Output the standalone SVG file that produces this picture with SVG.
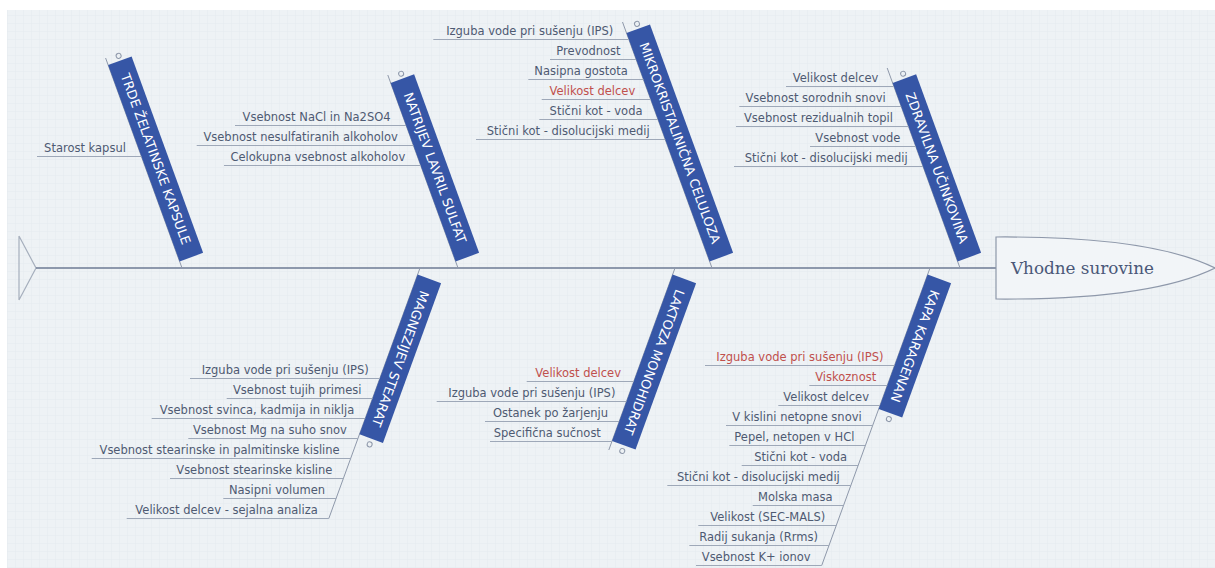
<svg xmlns="http://www.w3.org/2000/svg" width="1215" height="568" viewBox="0 0 1215 568">
<defs>
<pattern id="grid" width="8" height="8" patternUnits="userSpaceOnUse">
<rect width="8" height="8" fill="#eef2f5"/>
<path d="M8 0V8M0 8H8" stroke="#e5eaef" stroke-width="1" fill="none"/>
</pattern>
<style>
.bar{fill:#3656a6}
.bt{font-family:"DejaVu Sans",Verdana,sans-serif;font-size:13px;fill:#ffffff;text-anchor:middle}
.knob{fill:none;stroke:#8e98aa;stroke-width:1}
.st{font-family:"DejaVu Sans",Verdana,sans-serif;font-size:11.5px;fill:#4e5a72;text-anchor:end}
.red{fill:#c0504d}
.ul{stroke:#9ea8b8;stroke-width:1}
.bl{stroke:#8e98aa;stroke-width:1;fill:none}
.spine{stroke:#6c7a93;stroke-width:1.3}
.tail{stroke:#a6afbd;stroke-width:1.2;fill:none}
.head{fill:#f2f5f8;stroke:#8e98aa;stroke-width:1.2}
.ht{font-family:"DejaVu Serif",Georgia,serif;font-size:16.8px;fill:#4a5878}
</style>
</defs>
<rect x="0" y="0" width="1215" height="568" fill="#ffffff"/>
<rect x="7" y="10" width="1208" height="558" fill="url(#grid)"/>

<g id="connectors">
<path class="tail" d="M19 236V300M19 236L36 268L19 300"/>
<line class="spine" x1="36" y1="268" x2="997" y2="268"/>
<line class="bl" x1="182" y1="268" x2="105.6" y2="58"/>
<line class="bl" x1="458" y1="268" x2="387.8" y2="75"/>
<line class="bl" x1="712" y1="268" x2="622.5" y2="22"/>
<line class="bl" x1="960" y1="268" x2="887.2" y2="68"/>
<line class="bl" x1="420" y1="268" x2="328.8" y2="518.5"/>
<line class="bl" x1="675" y1="268" x2="608.8" y2="450"/>
<line class="bl" x1="930" y1="268" x2="821.7" y2="565.5"/>
</g>

<g id="head">
<path class="head" d="M996 237Q1150 236 1215 268Q1150 300 996 299Z"/>
<text class="ht" x="1011" y="274">Vhodne surovine</text>
</g>

<g id="trde" transform="translate(182,268) rotate(70)">
<rect class="bar" x="-216" y="-25" width="209" height="25"/>
<text class="bt" x="-111.5" y="-8">TRDE ŽELATINSKE KAPSULE</text>
<circle class="knob" cx="-221" cy="-13" r="2.5"/>
</g>
<g id="natrijev" transform="translate(458,268) rotate(70)">
<rect class="bar" x="-197" y="-25" width="190" height="25"/>
<text class="bt" x="-102" y="-8">NATRIJEV LAVRIL SULFAT</text>
<circle class="knob" cx="-202" cy="-13" r="2.5"/>
</g>
<g id="mikro" transform="translate(712,268) rotate(70)">
<rect class="bar" x="-250" y="-25" width="243" height="25"/>
<text class="bt" x="-128.5" y="-8">MIKROKRISTALINIČNA CELULOZA</text>
<circle class="knob" cx="-255" cy="-13" r="2.5"/>
</g>
<g id="zdravilna" transform="translate(960,268) rotate(70)">
<rect class="bar" x="-197" y="-25" width="190" height="25"/>
<text class="bt" x="-102" y="-8">ZDRAVILNA UČINKOVINA</text>
<circle class="knob" cx="-202" cy="-13" r="2.5"/>
</g>
<g id="magnezijev" transform="translate(420,268) rotate(110)">
<rect class="bar" x="7" y="-25" width="170" height="25"/>
<text class="bt" x="92" y="-8">MAGNEZIJEV STEARAT</text>
<circle class="knob" cx="183" cy="-13" r="2.5"/>
</g>
<g id="laktoza" transform="translate(675,268) rotate(110)">
<rect class="bar" x="7" y="-25" width="177" height="25"/>
<text class="bt" x="95.5" y="-8">LAKTOZA MONOHIDRAT</text>
<circle class="knob" cx="190" cy="-13" r="2.5"/>
</g>
<g id="kapa" transform="translate(930,268) rotate(110)">
<rect class="bar" x="7" y="-25" width="143" height="25"/>
<text class="bt" x="78.5" y="-8">KAPA KARAGENAN</text>
<circle class="knob" cx="156" cy="-13" r="2.5"/>
</g>

<g id="trde-items">
<g id="t1"><line class="ul" x1="37" y1="156.5" x2="141.4" y2="156.5"/><text class="st" x="125.9" y="152">Starost kapsul</text></g>
</g>

<g id="natrijev-items">
<g id="n1"><line class="ul" x1="235" y1="125.5" x2="406.1" y2="125.5"/><text class="st" x="390.6" y="121">Vsebnost NaCl in Na2SO4</text></g>
<g id="n2"><line class="ul" x1="196.7" y1="145.5" x2="413.4" y2="145.5"/><text class="st" x="397.9" y="141">Vsebnost nesulfatiranih alkoholov</text></g>
<g id="n3"><line class="ul" x1="224" y1="165.5" x2="420.7" y2="165.5"/><text class="st" x="405.2" y="161">Celokupna vsebnost alkoholov</text></g>
</g>

<g id="mikro-items">
<g id="m1"><line class="ul" x1="433.3" y1="39.5" x2="628.8" y2="39.5"/><text class="st" x="613.3" y="35">Izguba vode pri sušenju (IPS)</text></g>
<g id="m2"><line class="ul" x1="550" y1="59.5" x2="636.1" y2="59.5"/><text class="st" x="620.6" y="55">Prevodnost</text></g>
<g id="m3"><line class="ul" x1="528.3" y1="79.5" x2="643.4" y2="79.5"/><text class="st" x="627.9" y="75">Nasipna gostota</text></g>
<g id="m4"><line class="ul" x1="541.7" y1="99.5" x2="650.7" y2="99.5"/><text class="st red" x="635.2" y="95">Velikost delcev</text></g>
<g id="m5"><line class="ul" x1="539.3" y1="119.5" x2="658" y2="119.5"/><text class="st" x="642.5" y="115">Stični kot - voda</text></g>
<g id="m6"><line class="ul" x1="476" y1="139.5" x2="665.2" y2="139.5"/><text class="st" x="649.7" y="135">Stični kot - disolucijski medij</text></g>
</g>

<g id="zdravilna-items">
<g id="z1"><line class="ul" x1="786" y1="86.5" x2="893.9" y2="86.5"/><text class="st" x="878.4" y="82">Velikost delcev</text></g>
<g id="z2"><line class="ul" x1="739.3" y1="106.5" x2="901.2" y2="106.5"/><text class="st" x="885.7" y="102">Vsebnost sorodnih snovi</text></g>
<g id="z3"><line class="ul" x1="736" y1="126.5" x2="908.5" y2="126.5"/><text class="st" x="893" y="122">Vsebnost rezidualnih topil</text></g>
<g id="z4"><line class="ul" x1="810" y1="146.5" x2="915.8" y2="146.5"/><text class="st" x="900.3" y="142">Vsebnost vode</text></g>
<g id="z5"><line class="ul" x1="734" y1="166.5" x2="923.1" y2="166.5"/><text class="st" x="907.6" y="162">Stični kot - disolucijski medij</text></g>
</g>

<g id="magnezijev-items">
<g id="g1"><line class="ul" x1="190" y1="378.5" x2="379.8" y2="378.5"/><text class="st" x="368.8" y="374">Izguba vode pri sušenju (IPS)</text></g>
<g id="g2"><line class="ul" x1="226.7" y1="398.5" x2="372.5" y2="398.5"/><text class="st" x="361.5" y="394">Vsebnost tujih primesi</text></g>
<g id="g3"><line class="ul" x1="151.7" y1="418.5" x2="365.2" y2="418.5"/><text class="st" x="354.2" y="414">Vsebnost svinca, kadmija in niklja</text></g>
<g id="g4"><line class="ul" x1="188.3" y1="438.5" x2="357.9" y2="438.5"/><text class="st" x="346.9" y="434">Vsebnost Mg na suho snov</text></g>
<g id="g5"><line class="ul" x1="91.7" y1="458.5" x2="350.7" y2="458.5"/><text class="st" x="339.7" y="454">Vsebnost stearinske in palmitinske kisline</text></g>
<g id="g6"><line class="ul" x1="170" y1="478.5" x2="343.4" y2="478.5"/><text class="st" x="332.4" y="474">Vsebnost stearinske kisline</text></g>
<g id="g7"><line class="ul" x1="223.3" y1="498.5" x2="336.1" y2="498.5"/><text class="st" x="325.1" y="494">Nasipni volumen</text></g>
<g id="g8"><line class="ul" x1="126.7" y1="518.5" x2="328.8" y2="518.5"/><text class="st" x="317.8" y="514">Velikost delcev - sejalna analiza</text></g>
</g>

<g id="laktoza-items">
<g id="l1"><line class="ul" x1="526.7" y1="381.5" x2="633.7" y2="381.5"/><text class="st red" x="621" y="377">Velikost delcev</text></g>
<g id="l2"><line class="ul" x1="436.7" y1="401.5" x2="626.4" y2="401.5"/><text class="st" x="615.4" y="397">Izguba vode pri sušenju (IPS)</text></g>
<g id="l3"><line class="ul" x1="485" y1="421.5" x2="619.1" y2="421.5"/><text class="st" x="608.1" y="417">Ostanek po žarjenju</text></g>
<g id="l4"><line class="ul" x1="490" y1="441.5" x2="611.9" y2="441.5"/><text class="st" x="600.9" y="437">Specifična sučnost</text></g>
</g>

<g id="kapa-items">
<g id="k1"><line class="ul" x1="705" y1="365.5" x2="894.5" y2="365.5"/><text class="st red" x="883.5" y="361">Izguba vode pri sušenju (IPS)</text></g>
<g id="k2"><line class="ul" x1="809.3" y1="385.5" x2="887.2" y2="385.5"/><text class="st red" x="876.2" y="381">Viskoznost</text></g>
<g id="k3"><line class="ul" x1="778.3" y1="405.5" x2="880" y2="405.5"/><text class="st" x="869" y="401">Velikost delcev</text></g>
<g id="k4"><line class="ul" x1="726" y1="425.5" x2="872.7" y2="425.5"/><text class="st" x="861.7" y="421">V kislini netopne snovi</text></g>
<g id="k5"><line class="ul" x1="729.3" y1="445.5" x2="865.4" y2="445.5"/><text class="st" x="854.4" y="441">Pepel, netopen v HCl</text></g>
<g id="k6"><line class="ul" x1="741.7" y1="465.5" x2="858.1" y2="465.5"/><text class="st" x="847.1" y="461">Stični kot - voda</text></g>
<g id="k7"><line class="ul" x1="667.3" y1="485.5" x2="850.8" y2="485.5"/><text class="st" x="839.8" y="481">Stični kot - disolucijski medij</text></g>
<g id="k8"><line class="ul" x1="752.7" y1="505.5" x2="843.6" y2="505.5"/><text class="st" x="832.6" y="501">Molska masa</text></g>
<g id="k9"><line class="ul" x1="698.3" y1="525.5" x2="836.3" y2="525.5"/><text class="st" x="825.3" y="521">Velikost (SEC-MALS)</text></g>
<g id="k10"><line class="ul" x1="689.3" y1="545.5" x2="829" y2="545.5"/><text class="st" x="818" y="541">Radij sukanja (Rrms)</text></g>
<g id="k11"><line class="ul" x1="696" y1="565.5" x2="821.7" y2="565.5"/><text class="st" x="810.7" y="561">Vsebnost K+ ionov</text></g>
</g>
</svg>
